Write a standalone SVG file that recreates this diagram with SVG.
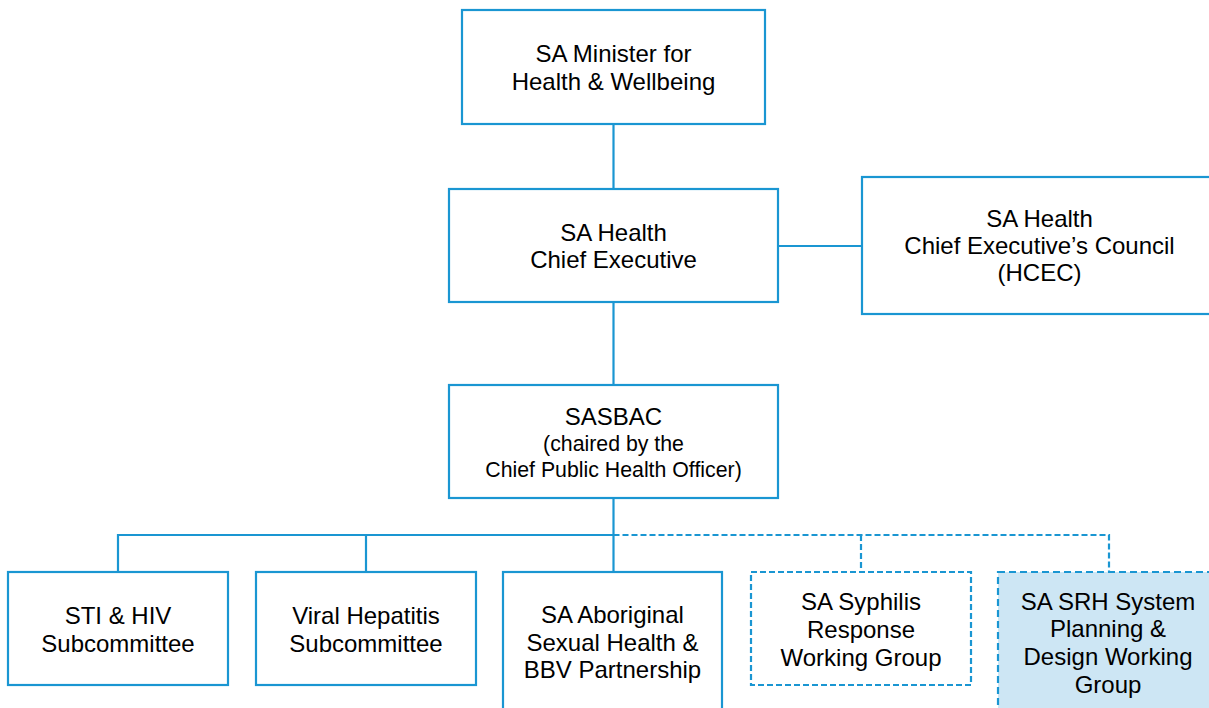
<svg xmlns="http://www.w3.org/2000/svg" width="1209" height="708" viewBox="0 0 1209 708">
<style>
.box{fill:#ffffff;stroke:#1a96d2;stroke-width:2.2}
.dash{fill:#ffffff;stroke:#1a96d2;stroke-width:2.2;stroke-dasharray:6 3}
.hl{fill:#cde6f4;stroke:#1a96d2;stroke-width:2.2;stroke-dasharray:7 4}
.ln{fill:none;stroke:#1a96d2;stroke-width:2.2}
.dl{fill:none;stroke:#1a96d2;stroke-width:2.2;stroke-dasharray:6 3}
text{font-family:"Liberation Sans",Arial,sans-serif;font-size:24px;fill:#000;text-anchor:middle}
.sm{font-size:21.3px}
</style>
<rect width="1209" height="708" fill="#ffffff"/>
<g id="connectors">
<line class="ln" x1="613.5" y1="124" x2="613.5" y2="189"/>
<line class="ln" x1="778" y1="246" x2="862" y2="246"/>
<line class="ln" x1="613.5" y1="302" x2="613.5" y2="385"/>
<line class="ln" x1="613.5" y1="498" x2="613.5" y2="572"/>
<polyline class="ln" points="118,572 118,535 613.5,535"/>
<line class="ln" x1="366" y1="535" x2="366" y2="572"/>
<polyline class="dl" points="613.5,535 1109,535 1109,572"/>
<line class="dl" x1="861" y1="535" x2="861" y2="572"/>
</g>
<g id="minister">
<rect class="box" x="462" y="10" width="303" height="114"/>
<text x="613.5" y="62">SA Minister for</text>
<text x="613.5" y="90">Health &amp; Wellbeing</text>
</g>
<g id="chief-executive">
<rect class="box" x="449" y="189" width="329" height="113"/>
<text x="613.5" y="241">SA Health</text>
<text x="613.5" y="268">Chief Executive</text>
</g>
<g id="hcec">
<rect class="box" x="862" y="177" width="360" height="137"/>
<text x="1039.5" y="227">SA Health</text>
<text x="1039.5" y="254">Chief Executive’s Council</text>
<text x="1039.5" y="281">(HCEC)</text>
</g>
<g id="sasbac">
<rect class="box" x="449" y="385" width="329" height="113"/>
<text x="613.5" y="425">SASBAC</text>
<text class="sm" x="613.5" y="451">(chaired by the</text>
<text class="sm" x="613.5" y="477">Chief Public Health Officer)</text>
</g>
<g id="sti-hiv">
<rect class="box" x="8" y="572" width="220" height="113"/>
<text x="118" y="624">STI &amp; HIV</text>
<text x="118" y="652">Subcommittee</text>
</g>
<g id="viral-hepatitis">
<rect class="box" x="256" y="572" width="220" height="113"/>
<text x="366" y="624">Viral Hepatitis</text>
<text x="366" y="652">Subcommittee</text>
</g>
<g id="aboriginal">
<rect class="box" x="503" y="572" width="219" height="150"/>
<text x="612.5" y="623">SA Aboriginal</text>
<text x="612.5" y="651">Sexual Health &amp;</text>
<text x="612.5" y="678">BBV Partnership</text>
</g>
<g id="syphilis">
<rect class="dash" x="751" y="572" width="220" height="113"/>
<text x="861" y="610">SA Syphilis</text>
<text x="861" y="638">Response</text>
<text x="861" y="666">Working Group</text>
</g>
<g id="srh">
<rect class="hl" x="998" y="572" width="230" height="150"/>
<text x="1108" y="610">SA SRH System</text>
<text x="1108" y="637">Planning &amp;</text>
<text x="1108" y="665">Design Working</text>
<text x="1108" y="693">Group</text>
</g>
</svg>
